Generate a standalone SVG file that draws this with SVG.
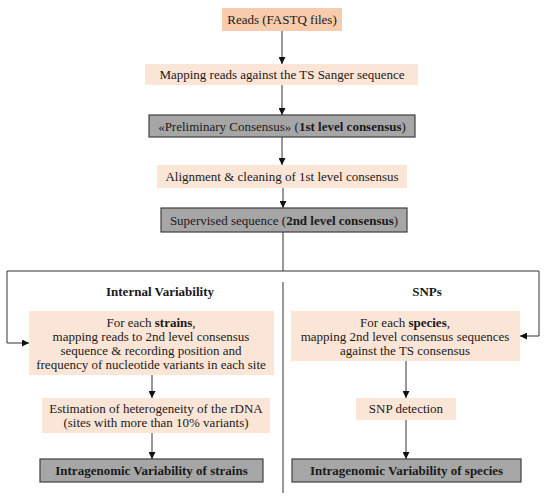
<svg xmlns="http://www.w3.org/2000/svg" width="550" height="500" viewBox="0 0 550 500">
<style>
text{font-family:"Liberation Serif","Times New Roman",serif;font-size:13px;fill:#1a1a1a;text-anchor:middle}
.b{font-weight:bold}
.peach{fill:#FBE5D6;stroke:none}
.peach2{fill:#F8CBAD;stroke:none}
.gray{fill:#A6A6A6;stroke:#404040;stroke-width:1.2}
.ln{fill:none;stroke:#333;stroke-width:1}
</style>
<defs>
<marker id="ah" viewBox="0 0 10 10" refX="10" refY="5" markerWidth="7" markerHeight="7" orient="auto" markerUnits="userSpaceOnUse">
<path d="M0,0 L10,5 L0,10 z" fill="#111"/>
</marker>
</defs>
<rect width="550" height="500" fill="#fff"/>
<g id="connectors">
<line class="ln" x1="282" y1="31" x2="282" y2="64" marker-end="url(#ah)"/>
<line class="ln" x1="282" y1="85" x2="282" y2="115" marker-end="url(#ah)"/>
<line class="ln" x1="282" y1="137" x2="282" y2="165" marker-end="url(#ah)"/>
<line class="ln" x1="283" y1="188" x2="283" y2="208" marker-end="url(#ah)"/>
<polyline class="ln" points="283,232 283,271"/>
<polyline class="ln" points="7,271 539,271"/>
<polyline class="ln" points="7,271 7,343 29,343" marker-end="url(#ah)"/>
<polyline class="ln" points="539,271 539,336 520,336" marker-end="url(#ah)"/>
<line class="ln" x1="283" y1="282" x2="283" y2="493"/>
<line class="ln" x1="152" y1="375" x2="152" y2="398" marker-end="url(#ah)"/>
<line class="ln" x1="152" y1="433" x2="152" y2="459" marker-end="url(#ah)"/>
<line class="ln" x1="406" y1="361" x2="406" y2="398" marker-end="url(#ah)"/>
<line class="ln" x1="406" y1="420" x2="406" y2="459" marker-end="url(#ah)"/>
</g>
<g id="reads">
<rect class="peach2" x="222" y="8" width="120" height="23"/>
<text x="282" y="24">Reads (FASTQ files)</text>
</g>
<g id="mapping">
<rect class="peach" x="145" y="64" width="273" height="21"/>
<text x="282" y="79">Mapping reads against the TS Sanger sequence</text>
</g>
<g id="preliminary">
<rect class="gray" x="149" y="115" width="266" height="22"/>
<text x="282" y="130.5">«Preliminary Consensus» (<tspan class="b">1st level consensus</tspan>)</text>
</g>
<g id="alignment">
<rect class="peach" x="157" y="165" width="250" height="23"/>
<text x="282" y="181">Alignment &amp; cleaning of 1st level consensus</text>
</g>
<g id="supervised">
<rect class="gray" x="161" y="208" width="246" height="24"/>
<text x="284" y="224.5">Supervised sequence (<tspan class="b">2nd level consensus</tspan>)</text>
</g>
<g id="title-internal">
<text class="b" x="160" y="296">Internal Variability</text>
</g>
<g id="title-snps">
<text class="b" x="427" y="296">SNPs</text>
</g>
<g id="strains">
<rect class="peach" x="29" y="311" width="245" height="64"/>
<text x="151" y="327">For each <tspan class="b">strains</tspan>,</text>
<text x="151" y="341">mapping reads to 2nd level consensus</text>
<text x="151" y="355">sequence &amp; recording position and</text>
<text x="151" y="369">frequency of nucleotide variants in each site</text>
</g>
<g id="species">
<rect class="peach" x="291" y="311" width="229" height="50"/>
<text x="405" y="327">For each <tspan class="b">species</tspan>,</text>
<text x="405" y="341">mapping 2nd level consensus sequences</text>
<text x="405" y="355">against the TS consensus</text>
</g>
<g id="estimation">
<rect class="peach" x="42" y="398" width="228" height="35"/>
<text x="156" y="413">Estimation of heterogeneity of the rDNA</text>
<text x="156" y="427">(sites with more than 10% variants)</text>
</g>
<g id="snp-detection">
<rect class="peach" x="356" y="398" width="100" height="22"/>
<text x="406" y="413">SNP detection</text>
</g>
<g id="intra-strains">
<rect class="gray" x="40" y="459" width="223" height="23"/>
<text class="b" x="151.5" y="475">Intragenomic Variability of strains</text>
</g>
<g id="intra-species">
<rect class="gray" x="292" y="459" width="229" height="23"/>
<text class="b" x="406.5" y="475">Intragenomic Variability of species</text>
</g>
</svg>
